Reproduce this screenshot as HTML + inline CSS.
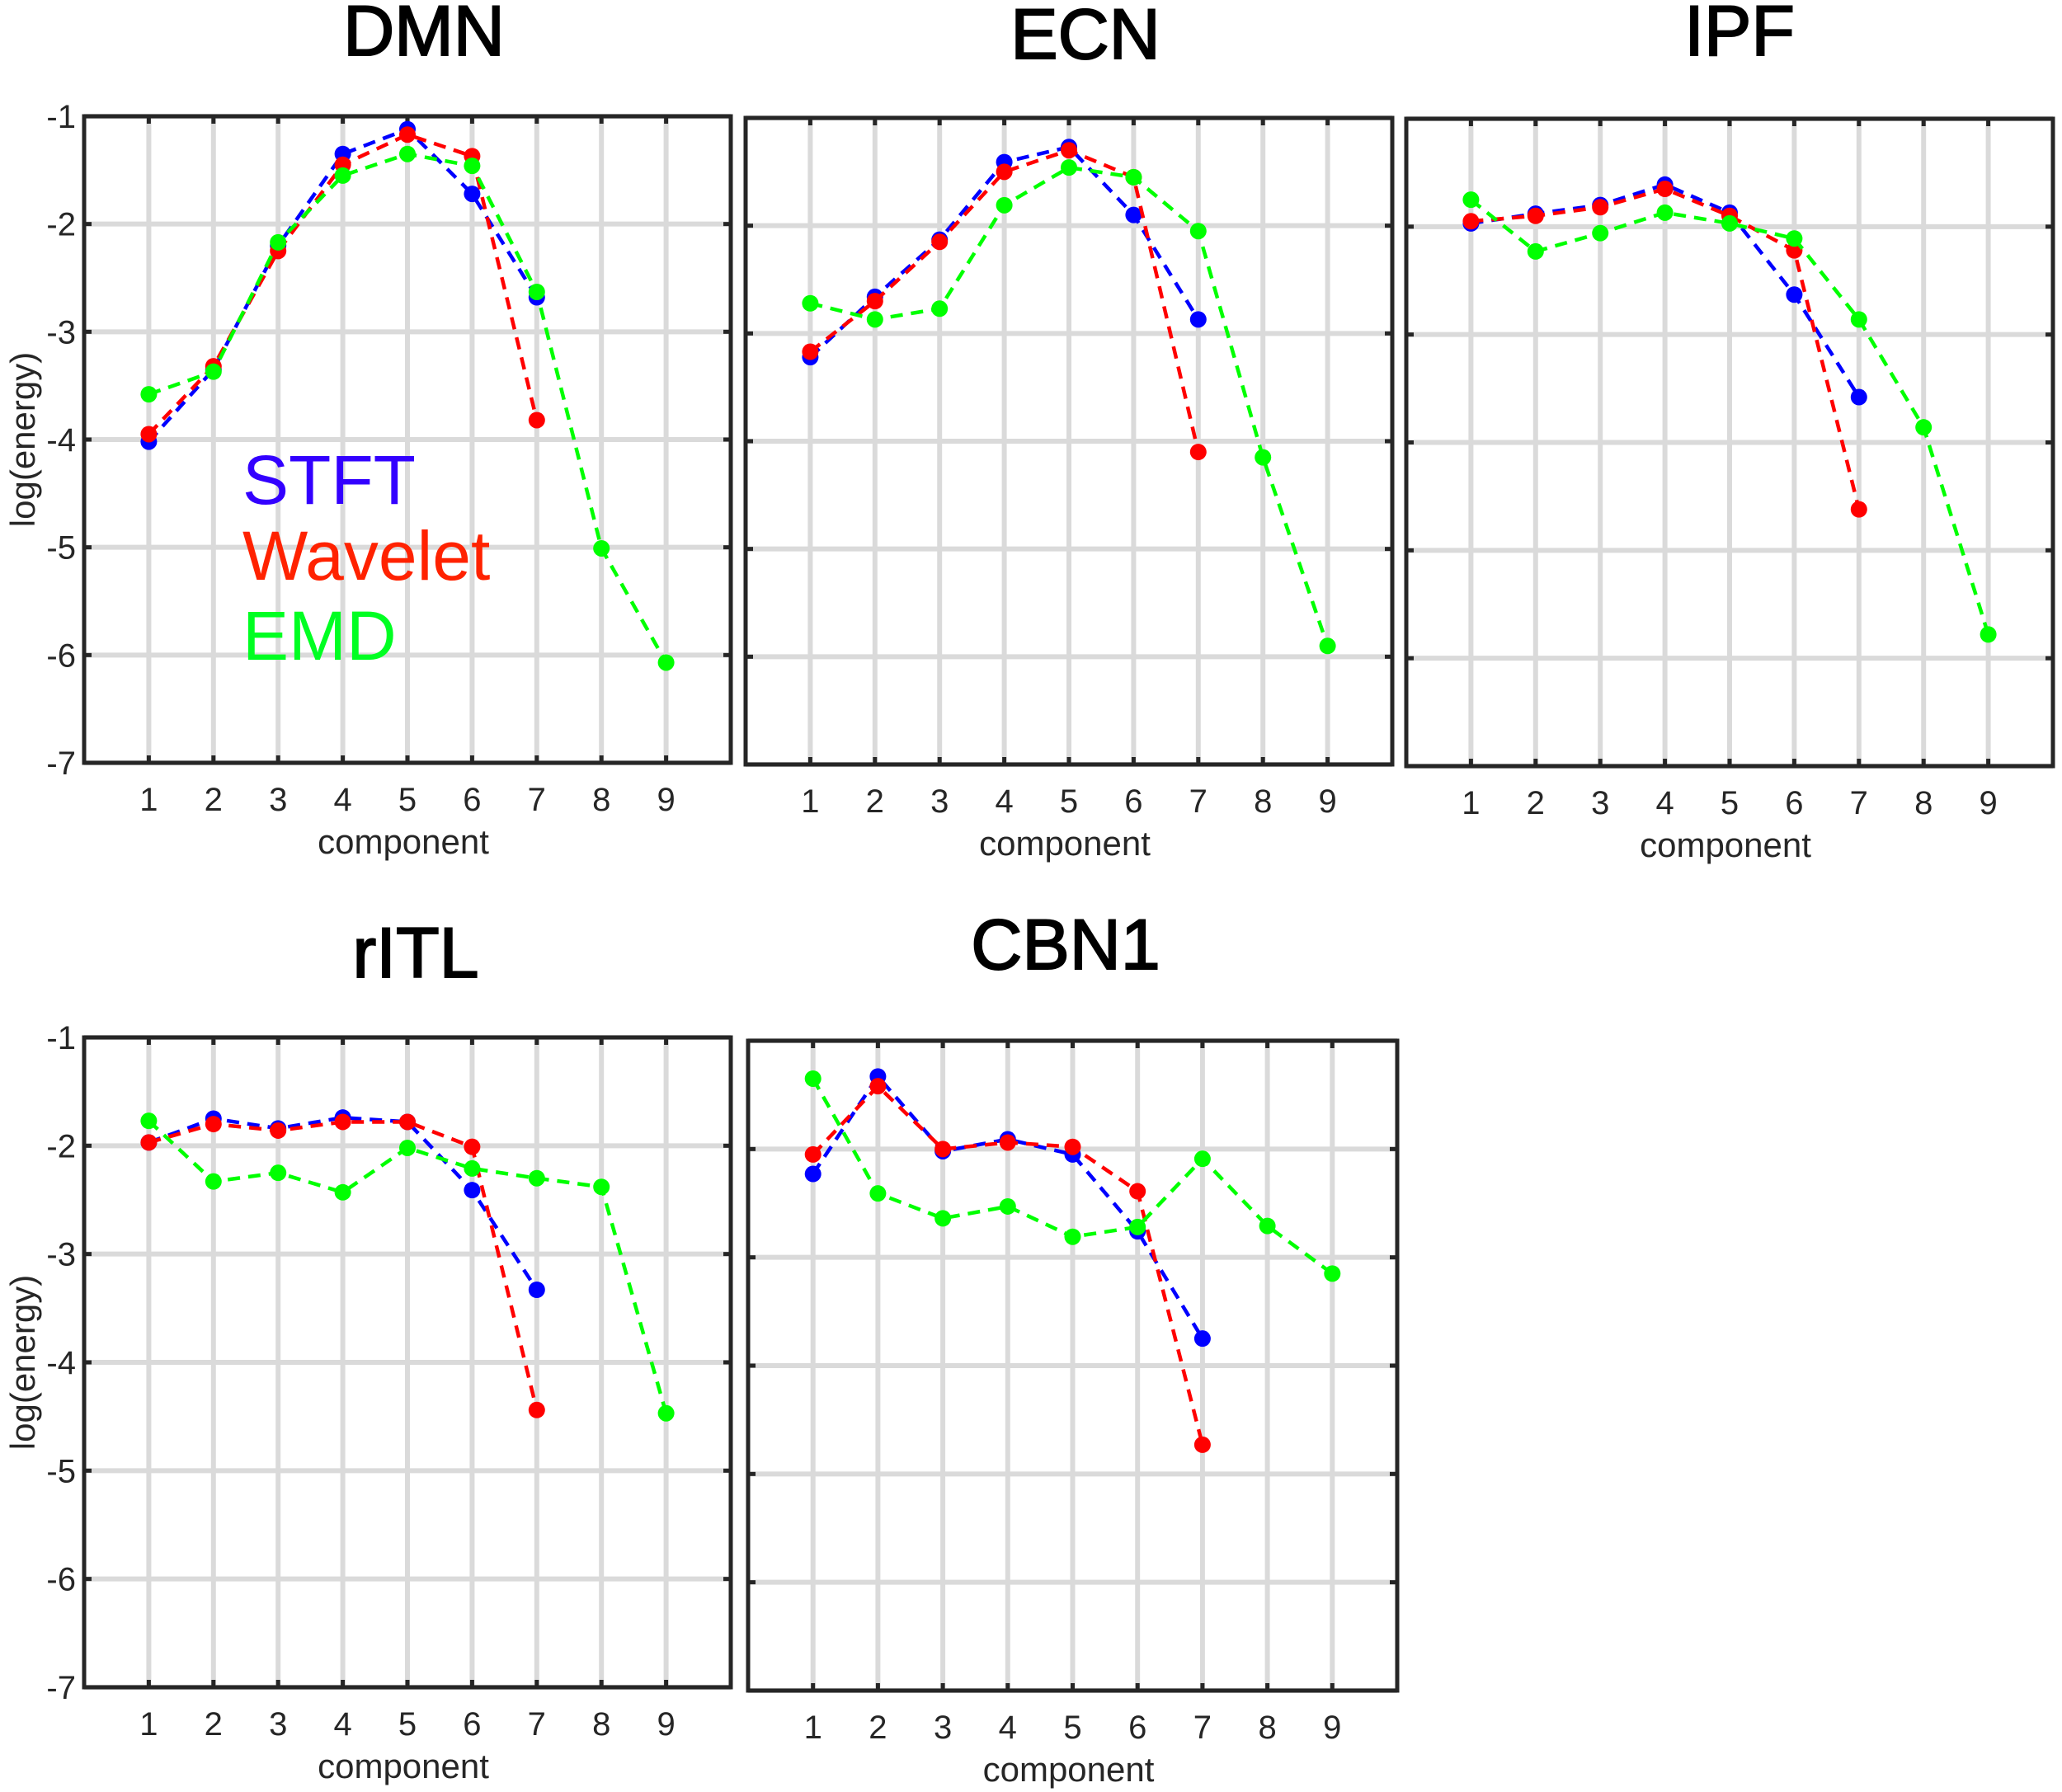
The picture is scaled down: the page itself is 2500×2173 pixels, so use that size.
<!DOCTYPE html>
<html><head><meta charset="utf-8">
<style>
html,body{margin:0;padding:0;background:#fff;}
svg{display:block;font-family:"Liberation Sans",Arial,sans-serif;}
</style></head>
<body>
<svg id="fig" width="2500" height="2173" viewBox="0 0 2500 2173" xmlns="http://www.w3.org/2000/svg"></svg>
<script>
const components = [1,2,3,4,5,6,7,8,9];
const yTicks = [-1,-2,-3,-4,-5,-6,-7];
const panelTitles = ["DMN","ECN","IPF","rITL","CBN1"];
const dmnSTFT = [-4.02,-3.35,-2.2,-1.35,-1.12,-1.72,-2.68];
const dmnWavelet = [-3.95,-3.32,-2.25,-1.45,-1.17,-1.37,-3.82];
const dmnEMD = [-3.58,-3.37,-2.17,-1.55,-1.35,-1.46,-2.63,-5.01,-6.07];
const ecnSTFT = [-3.22,-2.66,-2.13,-1.41,-1.27,-1.90,-2.87];
const ecnWavelet = [-3.17,-2.70,-2.15,-1.50,-1.30,-1.55,-4.10];
const ecnEMD = [-2.72,-2.87,-2.77,-1.81,-1.46,-1.55,-2.05,-4.15,-5.90];
const ipfSTFT = [-1.97,-1.88,-1.80,-1.61,-1.87,-2.63,-3.58];
const ipfWavelet = [-1.95,-1.90,-1.82,-1.65,-1.90,-2.22,-4.62];
const ipfEMD = [-1.75,-2.23,-2.06,-1.87,-1.97,-2.11,-2.86,-3.86,-5.78];
const ritlSTFT = [-1.97,-1.75,-1.84,-1.74,-1.78,-2.41,-3.33];
const ritlWavelet = [-1.97,-1.80,-1.86,-1.78,-1.78,-2.01,-4.44];
const ritlEMD = [-1.77,-2.33,-2.25,-2.43,-2.02,-2.21,-2.30,-2.38,-4.47];
const cbnSTFT = [-2.23,-1.33,-2.02,-1.91,-2.05,-2.76,-3.75];
const cbnWavelet = [-2.05,-1.42,-2.0,-1.94,-1.98,-2.39,-4.73];
const cbnEMD = [-1.35,-2.41,-2.64,-2.53,-2.81,-2.72,-2.09,-2.71,-3.15];

const NS="http://www.w3.org/2000/svg";
const svg=document.getElementById('fig');
function mk(tag,attrs,parent){const e=document.createElementNS(NS,tag);for(const k in attrs)e.setAttribute(k,attrs[k]);(parent||svg).appendChild(e);return e;}

const layout=[
 {x:102,y:141,w:784,h:784,tx:514,ty:67,ylab:true,series:[dmnSTFT,dmnWavelet,dmnEMD],legend:true},
 {x:904,y:143,w:784,h:784,tx:1316,ty:71,ylab:false,series:[ecnSTFT,ecnWavelet,ecnEMD]},
 {x:1705,y:144,w:784,h:785,tx:2109,ty:67,ylab:false,series:[ipfSTFT,ipfWavelet,ipfEMD]},
 {x:102,y:1258,w:784,h:788,tx:504,ty:1185,ylab:true,series:[ritlSTFT,ritlWavelet,ritlEMD]},
 {x:907,y:1262,w:787,h:788,tx:1292,ty:1175,ylab:false,series:[cbnSTFT,cbnWavelet,cbnEMD]}
];
const colors=["#0000ff","#ff0000","#00ff00"];
const sNames=["stft","wavelet","emd"];

layout.forEach((p,pi)=>{
  const g=mk('g',{});
  
  
  const xs=v=>p.x+v/10*p.w;
  const ys=v=>p.y+(-1-v)/6*p.h;
  const t=mk('text',{x:p.tx,y:p.ty,'text-anchor':'middle','font-size':86,'font-weight':'normal',fill:'#000',stroke:'#000','stroke-width':2},g);
  t.textContent=panelTitles[pi];
  
  
  yTicks.forEach(v=>{
    const l=mk('line',{x1:p.x,x2:p.x+p.w,y1:ys(v),y2:ys(v),stroke:'#dadada','stroke-width':6},g);
    
    
  });
  components.forEach(c=>{
    const l=mk('line',{x1:xs(c),x2:xs(c),y1:p.y,y2:p.y+p.h,stroke:'#dadada','stroke-width':6},g);
    
    
  });
  yTicks.forEach(v=>{
    mk('line',{x1:p.x,x2:p.x+9,y1:ys(v),y2:ys(v),stroke:'#262626','stroke-width':5},g);
    mk('line',{x1:p.x+p.w-9,x2:p.x+p.w,y1:ys(v),y2:ys(v),stroke:'#262626','stroke-width':5},g);
    if(p.ylab){
      const tl=mk('text',{x:p.x-10,y:ys(v)+14,'text-anchor':'end','font-size':40,fill:'#262626'},g);
      tl.textContent=String(v);
      
      
    }
  });
  components.forEach(c=>{
    mk('line',{x1:xs(c),x2:xs(c),y1:p.y,y2:p.y+9,stroke:'#262626','stroke-width':5},g);
    mk('line',{x1:xs(c),x2:xs(c),y1:p.y+p.h-9,y2:p.y+p.h,stroke:'#262626','stroke-width':5},g);
    const tl=mk('text',{x:xs(c),y:p.y+p.h+58,'text-anchor':'middle','font-size':40,fill:'#262626'},g);
    tl.textContent=String(c);
    
    
  });
  const xl=mk('text',{x:p.x+p.w/2-5,y:p.y+p.h+110,'text-anchor':'middle','font-size':42,fill:'#262626'},g);
  xl.textContent='component';
  
  
  if(p.ylab){
    const cy=p.y+p.h/2;
    const yl=mk('text',{x:0,y:0,transform:`translate(42,${cy}) rotate(-90)`,'text-anchor':'middle','font-size':42,fill:'#262626'},g);
    yl.textContent='log(energy)';
    
    
  }
  p.series.forEach((arr,si)=>{
    const sg=mk('g',{},g);
    
    
    const pts=arr.map((v,i)=>xs(components[i])+','+ys(v)).join(' ');
    const pl=mk('polyline',{points:pts,fill:'none',stroke:colors[si],'stroke-width':4.5,'stroke-dasharray':'15 10'},sg);
    
    
    arr.forEach((v,i)=>{
      const c=mk('circle',{cx:xs(components[i]),cy:ys(v),r:10,fill:colors[si]},sg);
      
      
    });
  });
  const box=mk('rect',{x:p.x,y:p.y,width:p.w,height:p.h,fill:'none',stroke:'#262626','stroke-width':5},g);
  
  
  if(p.legend){
    const lg=mk('g',{},g);
    
    
    [["STFT","#3300ff",611],["Wavelet","#ff2200",703],["EMD","#00ff22",800]].forEach(([n,c,y])=>{
      const e=mk('text',{x:294,y:y,'font-size':84,fill:c},lg);
      e.textContent=n;
      
      
    });
  }
});
</script>
</body></html>
